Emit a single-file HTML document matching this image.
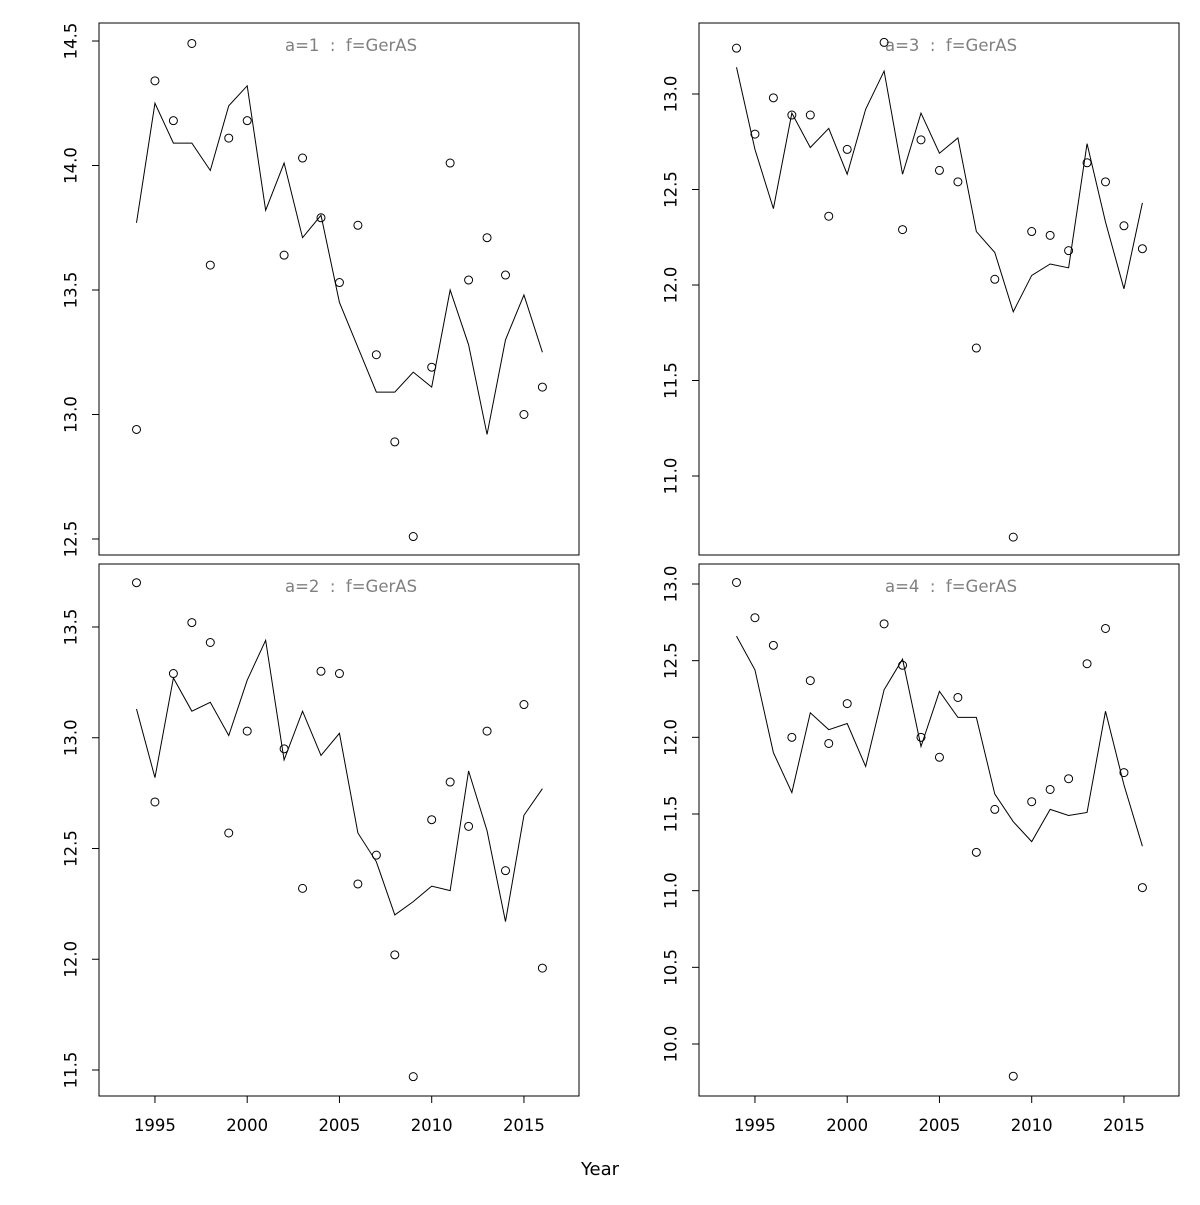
<!DOCTYPE html>
<html><head><meta charset="utf-8"><style>
html,body{margin:0;padding:0;background:#fff}
svg text{font-family:"DejaVu Sans","Liberation Sans",sans-serif;white-space:pre}
</style></head><body>
<svg id="chart" width="1200" height="1200" xmlns="http://www.w3.org/2000/svg"></svg>
<script>
const years = [1994,1995,1996,1997,1998,1999,2000,2001,2002,2003,2004,2005,2006,2007,2008,2009,2010,2011,2012,2013,2014,2015,2016];
const xTicks = [1995,2000,2005,2010,2015];
const obsA1 = [12.94,14.34,14.18,14.49,13.60,14.11,14.18,null,13.64,14.03,13.79,13.53,13.76,13.24,12.89,12.51,13.19,14.01,13.54,13.71,13.56,13.00,13.11];
const fitA1 = [13.77,14.25,14.09,14.09,13.98,14.24,14.32,13.82,14.01,13.71,13.80,13.45,13.27,13.09,13.09,13.17,13.11,13.50,13.28,12.92,13.30,13.48,13.25];
const obsA2 = [13.70,12.71,13.29,13.52,13.43,12.57,13.03,null,12.95,12.32,13.30,13.29,12.34,12.47,12.02,11.47,12.63,12.80,12.60,13.03,12.40,13.15,11.96];
const fitA2 = [13.13,12.82,13.27,13.12,13.16,13.01,13.26,13.44,12.90,13.12,12.92,13.02,12.57,12.44,12.20,12.26,12.33,12.31,12.85,12.58,12.17,12.65,12.77];
const obsA3 = [13.24,12.79,12.98,12.89,12.89,12.36,12.71,null,13.27,12.29,12.76,12.60,12.54,11.67,12.03,10.68,12.28,12.26,12.18,12.64,12.54,12.31,12.19];
const fitA3 = [13.14,12.71,12.40,12.90,12.72,12.82,12.58,12.92,13.12,12.58,12.90,12.69,12.77,12.28,12.17,11.86,12.05,12.11,12.09,12.74,12.33,11.98,12.43];
const obsA4 = [13.01,12.78,12.60,12.00,12.37,11.96,12.22,null,12.74,12.47,12.00,11.87,12.26,11.25,11.53,9.79,11.58,11.66,11.73,12.48,12.71,11.77,11.02];
const fitA4 = [12.66,12.44,11.90,11.64,12.16,12.05,12.09,11.81,12.31,12.51,11.94,12.30,12.13,12.13,11.63,11.45,11.32,11.53,11.49,11.51,12.17,11.69,11.29];
const ticksA1 = ["12.5","13.0","13.5","14.0","14.5"];
const ticksA2 = ["11.5","12.0","12.5","13.0","13.5"];
const ticksA3 = ["11.0","11.5","12.0","12.5","13.0"];
const ticksA4 = ["10.0","10.5","11.0","11.5","12.0","12.5","13.0"];

const svg = document.getElementById('chart');
const NS = 'http://www.w3.org/2000/svg';
function mk(tag, attrs, parent){const e=document.createElementNS(NS,tag);for(const k in attrs)e.setAttribute(k,attrs[k]);(parent||svg).appendChild(e);return e;}

const panels = [
 {name:'a1',x0:99,x1:579,y0:23,y1:555,obs:obsA1,fit:fitA1,ticks:ticksA1,v0:14.5,p0:41,v1:12.5,p1:539,title:'a=1  :  f=GerAS',xaxis:false},
 {name:'a3',x0:699,x1:1179,y0:23,y1:555,obs:obsA3,fit:fitA3,ticks:ticksA3,v0:13.0,p0:94,v1:11.0,p1:476,title:'a=3  :  f=GerAS',xaxis:false},
 {name:'a2',x0:99,x1:579,y0:564,y1:1096,obs:obsA2,fit:fitA2,ticks:ticksA2,v0:13.5,p0:627,v1:11.5,p1:1070,title:'a=2  :  f=GerAS',xaxis:true},
 {name:'a4',x0:699,x1:1179,y0:564,y1:1096,obs:obsA4,fit:fitA4,ticks:ticksA4,v0:13.0,p0:584,v1:10.0,p1:1044,title:'a=4  :  f=GerAS',xaxis:true}
];

panels.forEach(p=>{
  const g = mk('g',{});
  
  
  const xs = yr => p.x0 + 37.5 + (yr-1994)*18.45;
  const ys = v => p.p0 + (p.v0 - v)*(p.p1-p.p0)/(p.v0-p.v1);
  const box = mk('rect',{x:p.x0,y:p.y0,width:p.x1-p.x0,height:p.y1-p.y0,fill:'none',stroke:'#000','stroke-width':1},g);
  
  
  p.ticks.forEach(t=>{
    const y = ys(parseFloat(t));
    mk('line',{x1:p.x0-7,x2:p.x0,y1:y,y2:y,stroke:'#000'},g);
    const tx = mk('text',{x:p.x0-28,y:y,'font-size':16.5,'text-anchor':'middle',transform:`rotate(-90 ${p.x0-28} ${y})`,'dominant-baseline':'central'},g);
    tx.textContent=t;
    
    
  });
  const yv = p.ticks.map(t=>ys(parseFloat(t)));
  mk('line',{x1:p.x0,x2:p.x0,y1:Math.min(...yv),y2:Math.max(...yv),stroke:'#000'},g);
  if(p.xaxis){
    xTicks.forEach(t=>{
      const x = xs(t);
      mk('line',{x1:x,x2:x,y1:p.y1,y2:p.y1+7,stroke:'#000'},g);
      const tx = mk('text',{x:x,y:p.y1+35,'font-size':16.5,'text-anchor':'middle'},g);
      tx.textContent=t;
      
      
    });
  }
  const title = mk('text',{x:(p.x0+p.x1)/2+12,y:p.y0+28,'font-size':16.5,'text-anchor':'middle',fill:'#808080'},g);
  title.textContent=p.title;
  
  
  const pts = years.map((yr,i)=>`${xs(yr)},${ys(p.fit[i])}`).join(' ');
  const line = mk('polyline',{points:pts,fill:'none',stroke:'#000','stroke-width':1},g);
  
  
  years.forEach((yr,i)=>{
    if(p.obs[i]==null) return;
    const c = mk('circle',{cx:xs(yr),cy:ys(p.obs[i]),r:4,fill:'none',stroke:'#000','stroke-width':1},g);
    
    
  });
});
const xl = mk('text',{x:600,y:1175,'font-size':18,'text-anchor':'middle'});
xl.textContent='Year';


</script>
</body></html>
